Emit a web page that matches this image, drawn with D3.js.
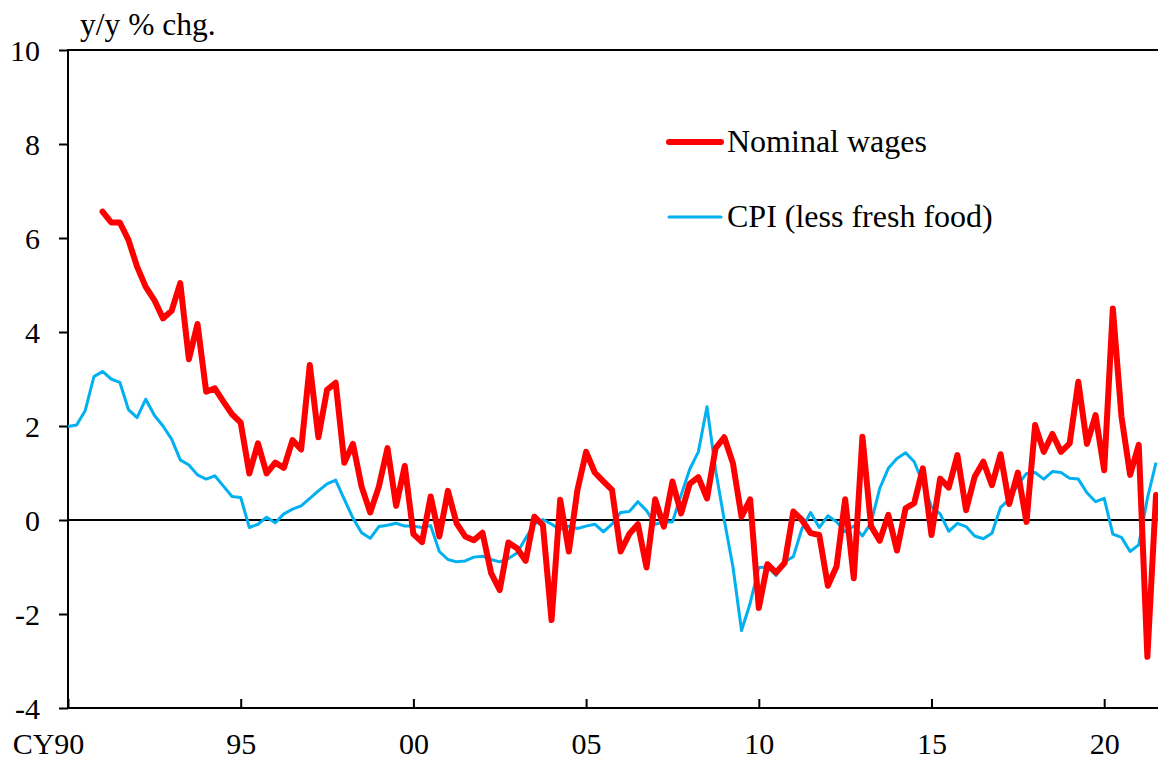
<!DOCTYPE html>
<html>
<head>
<meta charset="utf-8">
<script src="https://cdn.jsdelivr.net/npm/d3@7"></script>
<style>
  body { margin: 0; background: #fff; }
  svg { display: block; font-family: "Liberation Serif", "Times New Roman", serif; }
</style>
</head>
<body>
<svg id="draw-here"></svg>
<script>
// quarterly data, CPI from 1990Q1, wages from 1991Q1
let startYear = 1990;
let wageStartYear = 1991;

let nominalWages = [
  6.56, 6.33, 6.33, 5.96, 5.39, 4.96, 4.68, 4.29, 4.45, 5.04, 3.42, 4.17,
  2.73, 2.80, 2.52, 2.25, 2.07, 0.99, 1.63, 0.99, 1.22, 1.11, 1.70, 1.50,
  3.30, 1.76, 2.77, 2.92, 1.22, 1.62, 0.71, 0.16, 0.71, 1.53, 0.30, 1.15,
  -0.30, -0.47, 0.50, -0.35, 0.62, -0.07, -0.35, -0.43, -0.27, -1.13, -1.49, -0.48,
  -0.60, -0.87, 0.07, -0.11, -2.13, 0.43, -0.67, 0.64, 1.45, 1.01, 0.82, 0.64,
  -0.67, -0.30, -0.09, -1.01, 0.44, -0.14, 0.82, 0.14, 0.77, 0.91, 0.46, 1.53,
  1.76, 1.21, 0.07, 0.44, -1.87, -0.94, -1.12, -0.91, 0.18, 0.00, -0.28, -0.32,
  -1.40, -0.99, 0.44, -1.24, 1.77, -0.13, -0.44, 0.11, -0.65, 0.25, 0.36, 1.10,
  -0.32, 0.88, 0.69, 1.38, 0.21, 0.92, 1.24, 0.74, 1.40, 0.34, 1.01, -0.04,
  2.02, 1.45, 1.83, 1.45, 1.63, 2.94, 1.62, 2.23, 1.06, 4.50, 2.20, 0.96,
  1.60, -2.91, 0.53
];

let cpiLessFreshFood = [
  1.99, 2.02, 2.33, 3.05, 3.16, 3.00, 2.93, 2.35, 2.18, 2.57, 2.23, 2.00,
  1.72, 1.28, 1.17, 0.96, 0.87, 0.94, 0.72, 0.50, 0.48, -0.16, -0.09, 0.06,
  -0.06, 0.13, 0.23, 0.30, 0.46, 0.62, 0.77, 0.85, 0.44, 0.04, -0.27, -0.39,
  -0.14, -0.11, -0.07, -0.13, -0.13, -0.16, -0.12, -0.67, -0.84, -0.89, -0.87, -0.79,
  -0.77, -0.84, -0.89, -0.82, -0.70, -0.39, -0.09, 0.01, -0.09, -0.20, -0.13, -0.18,
  -0.13, -0.09, -0.25, -0.09, 0.16, 0.18, 0.39, 0.20, -0.09, -0.04, -0.04, 0.53,
  1.08, 1.45, 2.41, 1.06, 0.00, -0.99, -2.35, -1.77, -1.01, -1.00, -1.18, -0.89,
  -0.78, -0.18, 0.16, -0.16, 0.09, -0.04, -0.25, -0.13, -0.34, -0.06, 0.67, 1.10,
  1.31, 1.43, 1.24, 0.79, 0.28, 0.13, -0.24, -0.07, -0.14, -0.34, -0.40, -0.28,
  0.27, 0.44, 0.74, 0.99, 1.01, 0.87, 1.03, 1.01, 0.89, 0.87, 0.58, 0.39,
  0.46, -0.30, -0.37, -0.67, -0.53, 0.46, 1.22
];

let yTicks = [-4, -2, 0, 2, 4, 6, 8, 10];
let xTickYears = [1990, 1995, 2000, 2005, 2010, 2015, 2020];
let xTickLabels = ["CY90", "95", "00", "05", "10", "15", "20"];
let seriesNames = ["Nominal wages", "CPI (less fresh food)"];

let W = 1158, H = 760;
let m = {left: 68, right: 1158, top: 50, bottom: 708};
let font = '"Liberation Serif", "Times New Roman", serif';

let svg = d3.select('#draw-here')
  .attr('width', W)
  .attr('height', H);

let x = d3.scaleLinear()
  .domain([1990, 1990 + (m.right - m.left) / 34.54])
  .range([m.left, m.right]);

let y = d3.scaleLinear()
  .domain([-4, 10])
  .range([m.bottom, m.top]);

// y axis, ticks outward
let yAxis = d3.axisLeft(y)
  .tickValues(yTicks)
  .tickSize(9)
  .tickPadding(19)
  .tickFormat(d => d);

let gy = svg.append('g')
  .attr('transform', `translate(${m.left},0)`)
  .call(yAxis)
  .attr('font-family', font);
gy.select('.domain').remove();
gy.selectAll('.tick line').attr('stroke', '#000').attr('stroke-width', 2);
gy.selectAll('.tick text')
  .attr('fill', '#000')
  .style('font-size', '30px')
  .attr('dy', '0.35em');

// frame lines
svg.append('line')
  .attr('x1', m.left).attr('x2', m.left)
  .attr('y1', m.top - 1).attr('y2', m.bottom + 1)
  .attr('stroke', '#000').attr('stroke-width', 2);

svg.append('line')
  .attr('x1', m.left).attr('x2', m.right)
  .attr('y1', y(10)).attr('y2', y(10))
  .attr('stroke', '#000').attr('stroke-width', 2);

svg.append('line')
  .attr('x1', m.left).attr('x2', m.right)
  .attr('y1', y(0)).attr('y2', y(0))
  .attr('stroke', '#000').attr('stroke-width', 2);

// x axis at the bottom, ticks pointing in
let xAxis = d3.axisBottom(x)
  .tickValues(xTickYears)
  .tickSize(-9)
  .tickPadding(0)
  .tickFormat((d, i) => xTickLabels[i]);

let gx = svg.append('g')
  .attr('transform', `translate(0,${m.bottom})`)
  .call(xAxis)
  .attr('font-family', font);
gx.select('.domain').remove();
gx.selectAll('.tick line').attr('stroke', '#000').attr('stroke-width', 2);
gx.selectAll('.tick text')
  .attr('fill', '#000')
  .style('font-size', '30px')
  .attr('y', 46)
  .attr('dy', 0)
  .attr('dx', (d, i) => i == 0 ? -20 : 0);

svg.append('line')
  .attr('x1', m.left).attr('x2', m.right)
  .attr('y1', m.bottom).attr('y2', m.bottom)
  .attr('stroke', '#000').attr('stroke-width', 2);

// unit label
svg.append('text')
  .attr('x', 80)
  .attr('y', 35)
  .style('font-size', '31.5px')
  .text('y/y % chg.');

// lines
let line = d3.line()
  .x(d => x(d.t))
  .y(d => y(d.v));

let cpiData = cpiLessFreshFood.map((v, i) => ({t: startYear + i / 4, v: v}));
let wageData = nominalWages.map((v, i) => ({t: wageStartYear + i / 4, v: v}));

svg.append('path')
  .datum(cpiData)
  .attr('d', line)
  .attr('fill', 'none')
  .attr('stroke', '#00B0F0')
  .attr('stroke-width', 3)
  .attr('stroke-linejoin', 'round');

svg.append('path')
  .datum(wageData)
  .attr('d', line)
  .attr('fill', 'none')
  .attr('stroke', '#FF0000')
  .attr('stroke-width', 6)
  .attr('stroke-linejoin', 'round')
  .attr('stroke-linecap', 'round');

// legend
let legend = [
  {name: seriesNames[0], color: '#FF0000', width: 6, y: 142},
  {name: seriesNames[1], color: '#00B0F0', width: 3, y: 217}
];

legend.forEach(item => {
  svg.append('line')
    .attr('x1', 669).attr('x2', 721)
    .attr('y1', item.y).attr('y2', item.y)
    .attr('stroke', item.color)
    .attr('stroke-width', item.width)
    .attr('stroke-linecap', 'round');
  svg.append('text')
    .attr('x', 727)
    .attr('y', item.y + 10)
    .style('font-size', '32px')
    .text(item.name);
});
</script>
</body>
</html>
